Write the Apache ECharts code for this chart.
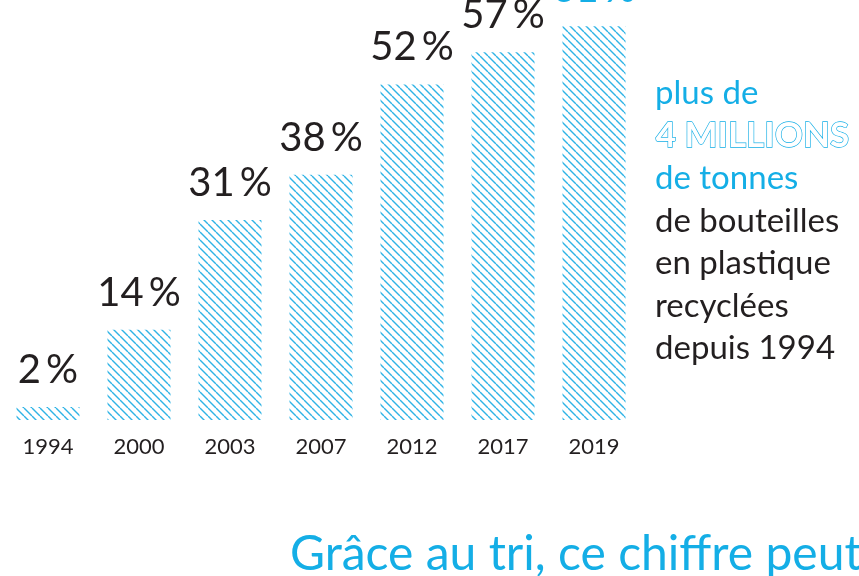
<!DOCTYPE html>
<html><head><meta charset="utf-8">
<script src="https://cdn.jsdelivr.net/npm/echarts@6/dist/echarts.min.js"></script>
<style>html,body{margin:0;padding:0;background:#fff}#c{width:859px;height:576px}</style>
</head><body><div id="c"></div>
<script>
const years = ['1994','2000','2003','2007','2012','2017','2019'];
const rates = [2, 14, 31, 38, 52, 57, 61];
const sideLinesBlue = ['plus de', '4 MILLIONS', 'de tonnes'];
const sideLinesDark = ['de bouteilles', 'en plastique', 'recyclées', 'depuis 1994'];
const footerText = 'Grâce au tri, ce chiffre peut';

const BLUE = '#14aee6';
const DARK = '#231f20';
const FONT = 'Lato, "Open Sans", sans-serif';

// hatch pattern
const pc = document.createElement('canvas');
pc.width = 8; pc.height = 8;
const g = pc.getContext('2d');
g.strokeStyle = '#2fb3e6';
g.lineWidth = 1.4;
for (const o of [-8, 0, 8]) { g.beginPath(); g.moveTo(o, 0); g.lineTo(o + 8, 8); g.stroke(); }

const chart = echarts.init(document.getElementById('c'));
const graphics = [];
sideLinesBlue.forEach((t, i) => {
  const outlined = i === 1;
  graphics.push({type:'text', left: 655, top: (outlined ? 75 : 77) + i*42.5, style:{
    text: t, font: outlined ? 'bold 35px ' + FONT : '33px ' + FONT,
    fill: outlined ? '#ffffff' : BLUE,
    stroke: outlined ? BLUE : null, lineWidth: outlined ? 1.3 : 0
  }});
});
sideLinesDark.forEach((t, i) => {
  graphics.push({type:'text', left: 655, top: 77 + (i+3)*42.5, style:{text: t, font: '33px ' + FONT, fill: DARK}});
});
graphics.push({type:'text', left: 290, top: 531, style:{text: footerText, font: '48px ' + FONT, fill: BLUE}});

chart.setOption({
  animation: false,
  grid: {left: 2.5, width: 637, top: 7, bottom: 156},
  xAxis: {type:'category', data: years, axisLine:{show:false}, axisTick:{show:false},
    axisLabel:{color: DARK, fontSize: 22, fontFamily: FONT, margin: 16}},
  yAxis: {type:'value', min: 0, max: 64, show: false, splitLine:{show:false}},
  series: [{type:'bar', barWidth: 63, clip: false,
    data: rates.map((v, i) => ({value: v, label: {color: i === rates.length - 1 ? BLUE : DARK}})),
    itemStyle: {color: {image: pc, repeat: 'repeat'}},
    label: {show: true, position: 'top', distance: 17, fontSize: 40, fontFamily: FONT,
      formatter: p => p.value + '\u2009%'}
  }],
  graphic: graphics
});
</script></body></html>
